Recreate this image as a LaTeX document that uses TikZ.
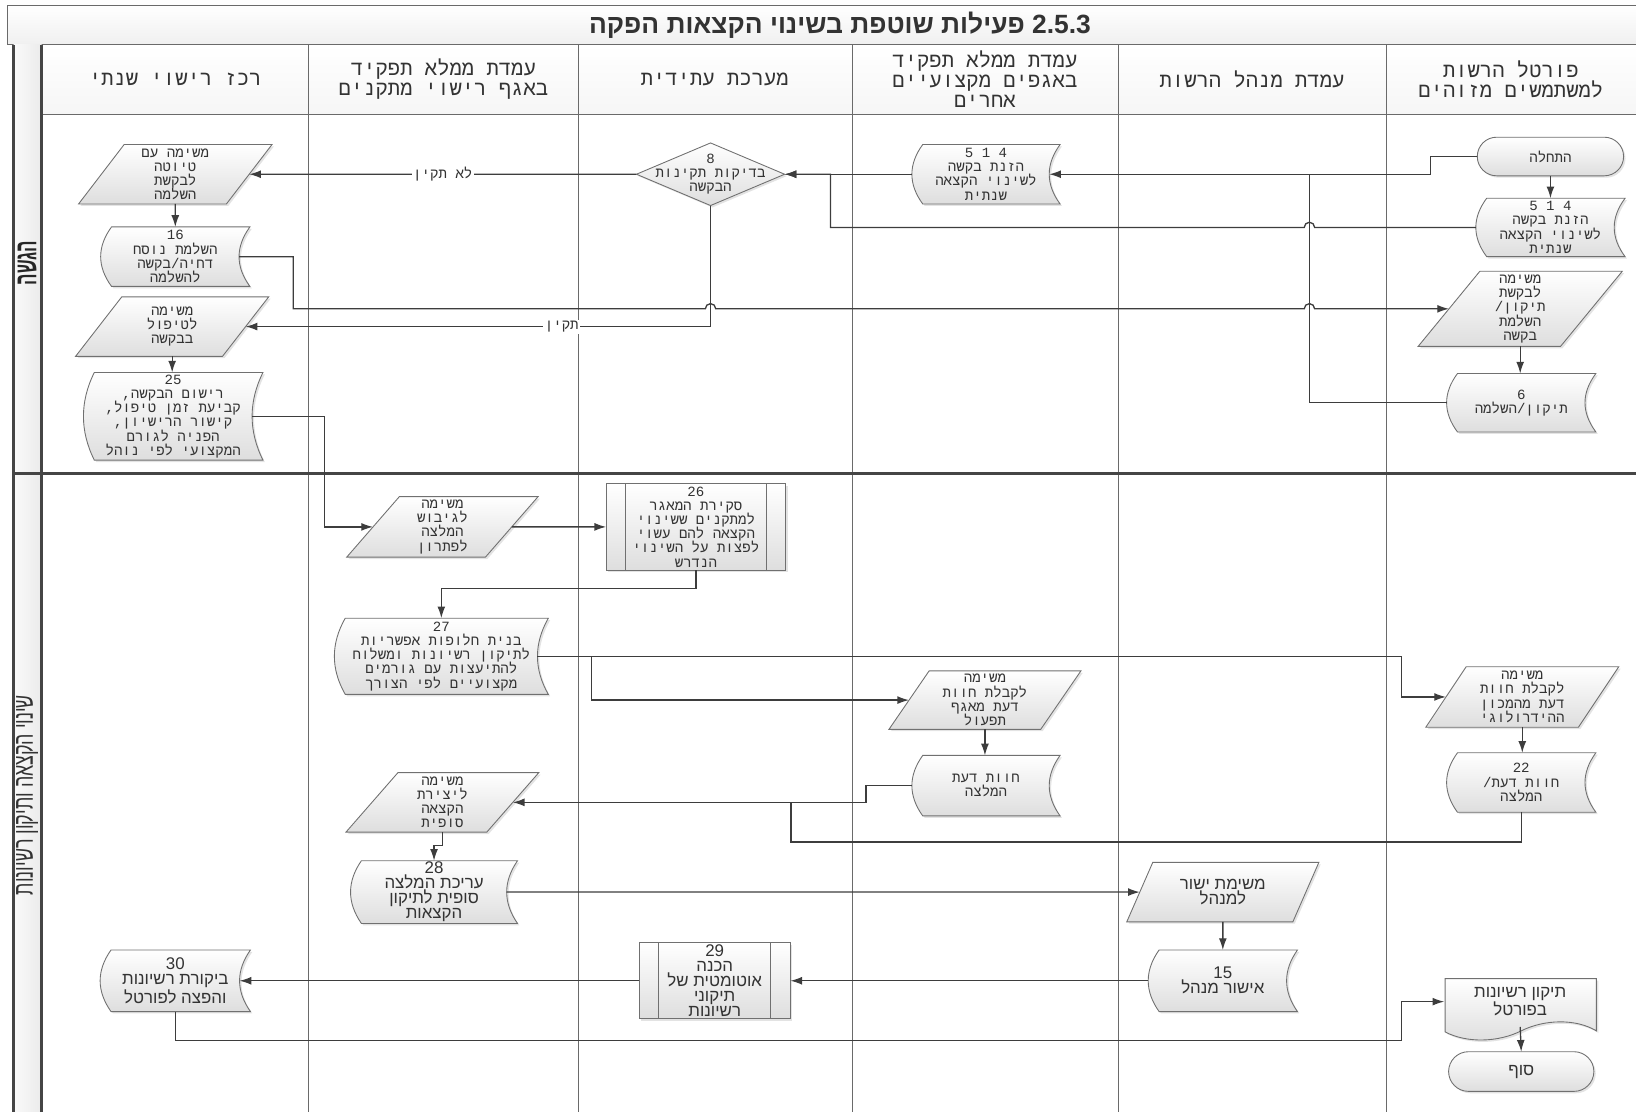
\documentclass[tikz,border=0pt]{standalone}
\usepackage{fontspec}
\usetikzlibrary{shapes.geometric,shapes.misc,arrows.meta,shadows,positioning}
\newfontfamily\hebmono[Script=Hebrew]{Liberation Mono}
\newfontfamily\hebsans[Script=Hebrew]{Liberation Sans}
\TeXXeTstate=1
\newcommand{\heb}[1]{\beginR#1\endR}
\newcommand\taskfont{\hebmono\fontsize{9.6}{9.7}\selectfont}
\newcommand\tasksans{\hebsans\fontsize{11.5}{10.2}\selectfont}
\newcommand\colheadfont{\hebmono\fontsize{14}{13.6}\selectfont}
\newcommand\flowtitlefont{\hebsans\bfseries\fontsize{18}{20}\selectfont}

\definecolor{linec}{HTML}{3D3D3D}
\definecolor{framec}{HTML}{6A6A6A}
\definecolor{thickc}{HTML}{454545}
\definecolor{boxc}{HTML}{707070}
\definecolor{boxfill}{HTML}{DEDEDE}
\definecolor{txt}{HTML}{333333}

% stored data shape: convex left side, concave right side
\makeatletter
\newdimen\sdaL \newdimen\sdaR \newdimen\sdaB \newdimen\sdaT
\newdimen\sdaH \newdimen\sdaX \newdimen\sdaCL \newdimen\sdaCR
\newdimen\sdaYT \newdimen\sdaYB \newdimen\sdabulge
\sdabulge=0.26cm
\pgfdeclareshape{storeddata}{
  \inheritsavedanchors[from=rectangle]
  \inheritanchorborder[from=rectangle]
  \inheritanchor[from=rectangle]{center}
  \inheritanchor[from=rectangle]{text}
  \inheritanchor[from=rectangle]{base}
  \inheritanchor[from=rectangle]{mid}
  \inheritanchor[from=rectangle]{north}
  \inheritanchor[from=rectangle]{south}
  \inheritanchor[from=rectangle]{east}
  \inheritanchor[from=rectangle]{west}
  \inheritanchor[from=rectangle]{north east}
  \inheritanchor[from=rectangle]{north west}
  \inheritanchor[from=rectangle]{south east}
  \inheritanchor[from=rectangle]{south west}
  \anchor{notch}{%
    \southwest \pgf@ya=\pgf@y
    \northeast
    \advance\pgf@x by -\sdabulge
    \advance\pgf@y by \pgf@ya
    \pgf@y=0.5\pgf@y
  }
  \backgroundpath{%
    \southwest \sdaL=\pgf@x \sdaB=\pgf@y
    \northeast \sdaR=\pgf@x \sdaT=\pgf@y
    \sdaH=\sdaT \advance\sdaH by -\sdaB \sdaH=0.3333\sdaH
    \sdaX=\sdaL \advance\sdaX by \sdabulge
    \sdaCL=\sdaX \advance\sdaCL by -1.3333\sdabulge
    \sdaCR=\sdaR \advance\sdaCR by -1.3333\sdabulge
    \sdaYT=\sdaT \advance\sdaYT by -\sdaH
    \sdaYB=\sdaB \advance\sdaYB by \sdaH
    \pgfpathmoveto{\pgfqpoint{\sdaX}{\sdaT}}
    \pgfpathlineto{\pgfqpoint{\sdaR}{\sdaT}}
    \pgfpathcurveto{\pgfqpoint{\sdaCR}{\sdaYT}}{\pgfqpoint{\sdaCR}{\sdaYB}}{\pgfqpoint{\sdaR}{\sdaB}}
    \pgfpathlineto{\pgfqpoint{\sdaX}{\sdaB}}
    \pgfpathcurveto{\pgfqpoint{\sdaCL}{\sdaYB}}{\pgfqpoint{\sdaCL}{\sdaYT}}{\pgfqpoint{\sdaX}{\sdaT}}
    \pgfpathclose
  }
}
\makeatother

\tikzset{
  flow/.style={draw=linec, line width=0.9pt, -{Latex[length=2.8mm,width=1.9mm]}},
  wire/.style={draw=linec, line width=0.9pt},
  boxline/.style={draw=boxc, line width=0.6pt},
  taskbase/.style={boxline, top color=white, bottom color=boxfill, text=txt,
    align=center, inner sep=1pt, outer sep=0pt, font=\taskfont,
    drop shadow={opacity=0.22, shadow xshift=1.3pt, shadow yshift=-1.3pt}},
  stored/.style={taskbase, shape=storeddata},
  inbox/.style={taskbase, trapezium, trapezium left angle=60,
    trapezium right angle=120, trapezium stretches=true},
  predef/.style={taskbase, rectangle},
  term/.style={taskbase, rounded rectangle},
  decision/.style={taskbase, diamond},
  tasktext/.style={align=center, font=\taskfont, text=txt},
  sanstext/.style={font=\tasksans},
  caselabel/.style={fill=white, inner sep=1pt, font=\taskfont, text=txt},
  colhead/.style={align=center, font=\colheadfont, text=txt}
}

\begin{document}
\begin{tikzpicture}[x=0.025cm, y=0.025cm]
\useasboundingbox (0,0) rectangle (1568,-1065);
% frame
\shadedraw[top color=white, bottom color=gray!12, draw=framec, line width=0.5pt] (7,-5) rectangle (1580,-43);
\node[font=\flowtitlefont, text=black!80] (title) at (805,-24) {\heb{\beginL 2.5.3\endL{} פעילות שוטפת בשינוי הקצאות הפקה}};
\shadedraw[top color=white, bottom color=gray!7, draw=framec, line width=0.5pt] (40,-43) rectangle (1580,-110);
\shade[left color=gray!4, right color=gray!16] (13,-43) rectangle (40,-1075);
\foreach \cx in {296,554,817,1072,1329}
  \draw[framec, line width=0.6pt] (\cx,-43) -- (\cx,-1075);
\draw[thickc, line width=2.3pt] (13,-43) -- (13,-1075);
\draw[thickc, line width=2.3pt] (40,-43) -- (40,-1075);
\draw[thickc, line width=2.3pt] (13,-454) -- (1580,-454);

% column heads
\node[colhead] (hd1) at (168,-76) {\heb{רכז רישוי שנתי}};
\node[colhead] (hd2) at (425,-76) {\heb{עמדת ממלא תפקיד}\\\heb{באגף רישוי מתקנים}};
\node[colhead] (hd3) at (685,-76) {\heb{מערכת עתידית}};
\node[colhead] (hd4) at (944,-76) {\heb{עמדת ממלא תפקיד}\\\heb{באגפים מקצועיים}\\\heb{אחרים}};
\node[colhead] (hd5) at (1200,-76) {\heb{עמדת מנהל הרשות}};
\node[colhead] (hd6) at (1448,-76) {\heb{פורטל הרשות}\\\heb{למשתמשים מזוהים}};

% lane labels
\node[rotate=90, text=black!85] (lane1) at (26,-252) {\scalebox{0.55}[1]{\hebsans\bfseries\fontsize{21}{21}\selectfont\heb{הגשה}}};
\node[rotate=90, text=txt] (lane2) at (26,-762) {\scalebox{0.64}[1]{\hebsans\fontsize{19}{19}\selectfont\heb{שינוי הקצאה ותיקון רשיונות}}};

% lane 1
\node[term, minimum width=3.575cm, minimum height=0.925cm] (start) at (1486,-150) {\heb{התחלה}};
\node[stored, minimum width=3.575cm, minimum height=1.4cm] (p514) at (1486,-218) {5 1 4\\\heb{הזנת בקשה}\\\heb{לשינוי הקצאה}\\\heb{שנתית}};
\node[inbox, minimum width=4.9cm, minimum height=1.8cm] (fixreq) at (1457,-296) {\heb{משימה}\\\heb{לבקשת}\\\heb{תיקון/}\\\heb{השלמת}\\\heb{בקשה}};
\node[stored, minimum width=3.575cm, minimum height=1.4cm] (n6) at (1458,-386) {6\\\heb{תיקון/השלמה}};
\node[stored, minimum width=3.55cm, minimum height=1.425cm] (c514) at (945,-167) {5 1 4\\\heb{הזנת בקשה}\\\heb{לשינוי הקצאה}\\\heb{שנתית}};
\node[decision, minimum width=3.55cm, minimum height=1.5cm, label={[tasktext]center:{8\\\beginR בדיקות תקינות\endR\\\beginR הבקשה\endR}}] (chk) at (681,-167) {};
\node[inbox, minimum width=4.675cm, minimum height=1.425cm] (draft) at (168,-167) {\heb{משימה עם}\\\heb{טיוטה}\\\heb{לבקשת}\\\heb{השלמה}};
\node[stored, minimum width=3.575cm, minimum height=1.425cm] (n16) at (168,-246) {16\\\heb{השלמת נוסח}\\\heb{דחיה/בקשה}\\\heb{להשלמה}};
\node[inbox, minimum width=4.65cm, minimum height=1.425cm] (treat) at (165,-313) {\heb{משימה}\\\heb{לטיפול}\\\heb{בבקשה}};
\node[stored, minimum width=4.3cm, minimum height=2.1cm] (n25) at (166,-399) {25\\\heb{רישום הבקשה,}\\\heb{קביעת זמן טיפול,}\\\heb{קישור הרישיון,}\\\heb{הפניה לגורם}\\\heb{המקצועי לפי נוהל}};

% lane 2
\node[inbox, minimum width=4.625cm, minimum height=1.45cm] (gib) at (424,-505) {\heb{משימה}\\\heb{לגיבוש}\\\heb{המלצה}\\\heb{לפתרון}};
\node[predef, minimum width=4.3cm, minimum height=2.075cm] (n26) at (667,-505) {26\\\heb{סקירת המאגר}\\\heb{למתקנים ששינוי}\\\heb{הקצאה להם עשוי}\\\heb{לפצות על השינוי}\\\heb{הנדרש}};
\draw[boxline] ([xshift=0.45cm]n26.north west) -- ([xshift=0.45cm]n26.south west);
\draw[boxline] ([xshift=-0.45cm]n26.north east) -- ([xshift=-0.45cm]n26.south east);
\node[stored, minimum width=5.125cm, minimum height=1.825cm] (n27) at (423,-629) {27\\\heb{בנית חלופות אפשריות}\\\heb{לתיקון רשיונות ומשלוח}\\\heb{להתיעצות עם גורמים}\\\heb{מקצועיים לפי הצורך}};
\node[inbox, minimum width=4.6cm, minimum height=1.4cm] (ops) at (944,-671) {\heb{משימה}\\\heb{לקבלת חוות}\\\heb{דעת מאגף}\\\heb{תפעול}};
\node[inbox, minimum width=4.625cm, minimum height=1.45cm] (hydro) at (1459,-668) {\heb{משימה}\\\heb{לקבלת חוות}\\\heb{דעת מהמכון}\\\heb{ההידרולוגי}};
\node[stored, minimum width=3.55cm, minimum height=1.45cm] (opin) at (945,-753) {\heb{חוות דעת}\\\heb{המלצה}};
\node[stored, minimum width=3.575cm, minimum height=1.425cm] (n22) at (1458,-750) {22\\\heb{חוות דעת/}\\\heb{המלצה}};
\node[inbox, minimum width=4.625cm, minimum height=1.425cm] (final) at (424,-769) {\heb{משימה}\\\heb{ליצירת}\\\heb{הקצאה}\\\heb{סופית}};
\node[stored, sanstext, minimum width=4cm, minimum height=1.45cm] (n28) at (416,-855) {28\\\heb{עריכת המלצה}\\\heb{סופית לתיקון}\\\heb{הקצאות}};
\node[inbox, sanstext, minimum width=4.625cm, minimum height=1.425cm] (yishur) at (1172,-855) {\heb{משימת ישור}\\\heb{למנהל}};
\node[stored, sanstext, minimum width=3.575cm, minimum height=1.475cm] (n15) at (1172,-940) {15\\\heb{אישור מנהל}};
\node[predef, sanstext, minimum width=3.625cm, minimum height=1.825cm] (n29) at (685,-940) {29\\\heb{הכנה}\\\heb{אוטומטית של}\\\heb{תיקוני}\\\heb{רשיונות}};
\draw[boxline] ([xshift=0.475cm]n29.north west) -- ([xshift=0.475cm]n29.south west);
\draw[boxline] ([xshift=-0.475cm]n29.north east) -- ([xshift=-0.475cm]n29.south east);
\node[stored, sanstext, minimum width=3.6cm, minimum height=1.475cm] (n30) at (168,-940) {30\\\heb{ביקורת רשיונות}\\\heb{והפצה לפורטל}};
\shadedraw[boxline, top color=white, bottom color=boxfill,
  drop shadow={opacity=0.22, shadow xshift=1.3pt, shadow yshift=-1.3pt}]
  (1385,-938) -- (1530,-938) -- (1530,-988) .. controls (1510,-976) and (1480,-977) .. (1458,-988)
  .. controls (1436,-999) and (1406,-1000) .. (1385,-989) -- cycle;
\node[tasktext, sanstext, minimum width=3.625cm, minimum height=1.2cm, inner sep=0pt] (fixp) at (1457,-960) {\heb{תיקון רשיונות}\\\heb{בפורטל}};
\node[term, sanstext, minimum width=3.55cm, minimum height=0.95cm] (fin) at (1458,-1027) {\heb{סוף}};

% connectors lane 1
\coordinate (s1) at (1371,-150);
\coordinate (j1) at (796,-218);
\coordinate (h1) at (1260,-218);
\coordinate (b16) at (281,-246);
\coordinate (h2) at (676,-296);
\coordinate (h3) at (1250,-296);
\coordinate (j3) at (1255,-167);
\coordinate (b25) at (311,-399);
\draw[flow] (start.south) -- (p514.north);
\draw[flow] (start.west) -- (s1) |- (c514.notch);
\draw[flow] (c514.west) -- (chk.east);
\draw[flow] (p514.west) -- (h1) arc[start angle=0, end angle=180, radius=5] -- (j1) |- (chk.east);
\draw[flow] (chk.west) -- node[caselabel, pos=0.5] {\heb{לא תקין}} (draft.east);
\draw[flow] (chk.south) |- node[caselabel, pos=0.66] {\heb{תקין}} (treat.east);
\draw[flow] (draft.south) -- (n16.north);
\draw[flow] (n16.notch) -- (b16) |- (h2) arc[start angle=180, end angle=0, radius=5] -- (h3) arc[start angle=180, end angle=0, radius=5] -- (fixreq.west);
\draw[flow] (treat.south) -- (treat.south |- n25.north);
\draw[flow] (fixreq.south) -- (fixreq.south |- n6.north);
\draw[wire] (n6.west) -| (j3);
\draw[flow] (n25.notch) -- (b25) |- (gib.west);

% connectors lane 2
\coordinate (b26) at (667,-564);
\coordinate (b27) at (1343,-629);
\coordinate (k27) at (567,-629);
\coordinate (bop) at (830,-753);
\coordinate (b22) at (758,-807);
\coordinate (j22) at (758,-769);
\coordinate (b30) at (1343,-997);
\draw[flow] (gib.east) -- (n26.west);
\draw[flow] (n26.south) -- (b26) -| (n27.north);
\draw[flow] (n27.notch) -- (b27) |- (hydro.west);
\draw[flow] (k27) |- (ops.west);
\draw[flow] (ops.south) -- (ops.south |- opin.north);
\draw[flow] (hydro.south) -- (hydro.south |- n22.north);
\draw[flow] (opin.west) -- (bop) |- (final.east);
\draw[wire] (n22.south) |- (b22) -- (j22);
\draw[flow] (final.south) -- ++(0,-13) -| (n28.north);
\draw[flow] (n28.notch) -- (yishur.west);
\draw[flow] (yishur.south) -- (n15.north);
\draw[flow] (n15.west) -- (n29.east);
\draw[flow] (n29.west) -- (n30.notch);
\draw[flow] (n30.south) |- (b30) |- (fixp.west);
\draw[flow] (fixp.south) -- (fin.north);
\end{tikzpicture}
\end{document}
